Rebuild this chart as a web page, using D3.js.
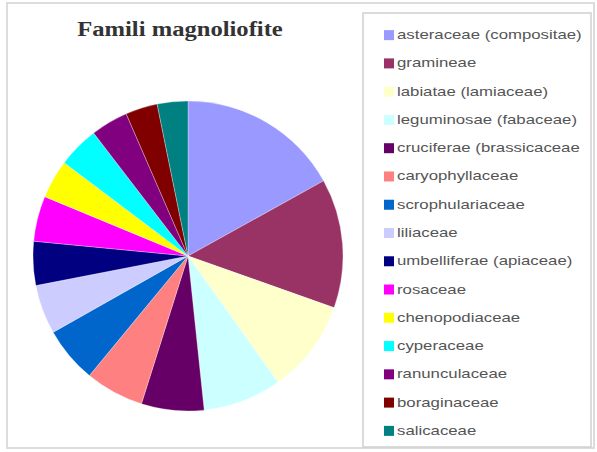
<!DOCTYPE html>
<html><head><meta charset="utf-8">
<script src="https://cdn.jsdelivr.net/npm/d3@7"></script>
<style>body{margin:0;background:#fff}</style>
</head><body>
<svg id="c" width="597" height="452"></svg>
<script>
const title = "Famili magnoliofite";
const categories = ["asteraceae (compositae)","gramineae","labiatae (lamiaceae)","leguminosae (fabaceae)","cruciferae (brassicaceae","caryophyllaceae","scrophulariaceae","liliaceae","umbelliferae (apiaceae)","rosaceae","chenopodiaceae","cyperaceae","ranunculaceae","boraginaceae","salicaceae"];
const values = [61, 48.5, 35, 29.5, 23.5, 22, 21, 18.5, 16.5, 17, 14.5, 15.5, 14, 12, 11.5];
const colors = ["#9999FF","#993366","#FFFFCC","#CCFFFF","#660066","#FF8080","#0066CC","#CCCCFF","#000080","#FF00FF","#FFFF00","#00FFFF","#800080","#800000","#008080"];

const svg = d3.select("#c");
svg.append("rect").attr("x",7).attr("y",3).attr("width",587).attr("height",445)
  .attr("fill","#fff").attr("stroke","#dcdcdc").attr("stroke-width",2);

svg.append("text").attr("transform","translate(180,36) scale(1.23,1)").attr("text-anchor","middle")
  .attr("font-family","Liberation Serif, Times New Roman, serif").attr("font-weight","bold")
  .attr("font-size",20).attr("fill","#333").text(title);

const pie = d3.pie().sort(null).value(d=>d);
const arc = d3.arc().innerRadius(0).outerRadius(155);
const g = svg.append("g").attr("transform","translate(188,256)");
g.selectAll("path").data(pie(values)).join("path")
  .attr("d",arc).attr("fill",(d,i)=>colors[i]).attr("stroke","#fff").attr("stroke-width",0.3);

svg.append("rect").attr("x",363).attr("y",13).attr("width",228).attr("height",434)
  .attr("fill","#fff").attr("stroke","#d0d0d0").attr("stroke-width",1.5);

const y = d3.scaleBand().domain(categories).range([21,445]);
const lg = svg.append("g").selectAll("g").data(categories).join("g")
  .attr("transform",d=>`translate(384,${y(d)+y.bandwidth()/2})`);
lg.append("rect").attr("x",0).attr("y",-5).attr("width",10).attr("height",10)
  .attr("fill",(d,i)=>colors[i]);
lg.append("text").attr("transform","translate(13,4) scale(1.4,1)").attr("font-family","Liberation Sans, Arial, sans-serif")
  .attr("font-size",12).attr("fill","#555").text(d=>d);
</script>
</body></html>
